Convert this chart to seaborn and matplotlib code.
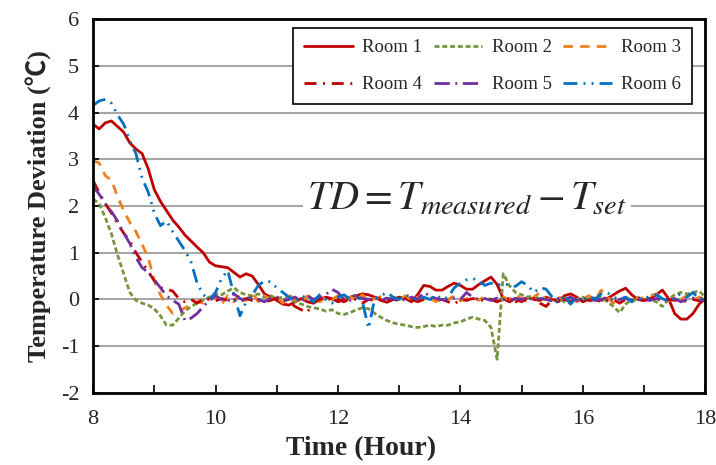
import numpy as np
import pandas as pd
import matplotlib
matplotlib.use("Agg")
import matplotlib.pyplot as plt
import seaborn as sns
from matplotlib.ticker import MultipleLocator

# ---------------- data (hourly time grid, 0.1 h step) ----------------
hours = np.round(np.linspace(8.0, 18.0, 101), 1)

room1 = [3.75, 3.65, 3.78, 3.82, 3.70, 3.58, 3.35, 3.22, 3.12, 2.80,
         2.35, 2.10, 1.90, 1.70, 1.55, 1.38, 1.25, 1.12, 1.00, 0.80,
         0.72, 0.70, 0.68, 0.58, 0.48, 0.55, 0.50, 0.32, 0.12, 0.05,
         -0.02, -0.10, -0.12, -0.05, 0.02, -0.05, -0.08, 0.00, 0.05, 0.02,
         -0.05, 0.00, 0.05, 0.08, 0.12, 0.10, 0.05, -0.02, -0.06, 0.00,
         0.05, 0.02, -0.05, 0.10, 0.30, 0.28, 0.20, 0.20, 0.28, 0.35,
         0.30, 0.22, 0.22, 0.32, 0.40, 0.48, 0.32, 0.02, -0.05, 0.02,
         -0.05, 0.05, 0.00, -0.02, 0.05, 0.00, -0.05, 0.08, 0.12, 0.05,
         -0.05, 0.00, 0.03, -0.02, 0.02, 0.10, 0.18, 0.24, 0.10, 0.00,
         -0.02, 0.02, 0.10, 0.20, 0.02, -0.30, -0.42, -0.42, -0.30, -0.10,
         0.02]

room2 = [2.15, 2.05, 1.75, 1.40, 0.95, 0.55, 0.15, -0.02, -0.08, -0.12,
         -0.20, -0.35, -0.55, -0.55, -0.40, -0.25, -0.15, -0.08, -0.02, 0.05,
         0.12, 0.10, 0.18, 0.25, 0.15, 0.10, 0.08, 0.12, 0.05, 0.08,
         0.02, 0.05, 0.00, -0.05, -0.10, -0.15, -0.18, -0.20, -0.25, -0.22,
         -0.30, -0.32, -0.28, -0.22, -0.18, -0.20, -0.30, -0.38, -0.45, -0.50,
         -0.53, -0.55, -0.58, -0.60, -0.58, -0.55, -0.58, -0.55, -0.55, -0.50,
         -0.48, -0.42, -0.38, -0.42, -0.45, -0.60, -1.28, 0.55, 0.30, 0.15,
         0.10, 0.05, 0.08, 0.00, 0.05, -0.05, 0.02, -0.05, -0.08, 0.00,
         0.05, -0.02, 0.00, 0.05, -0.05, -0.15, -0.28, -0.10, 0.00, -0.02,
         0.05, 0.00, -0.05, -0.15, 0.00, 0.10, 0.15, 0.12, 0.15, 0.18,
         0.05]

room3 = [2.97, 2.92, 2.65, 2.55, 2.20, 1.90, 1.65, 1.45, 1.18, 0.90,
         0.40, 0.10, -0.12, -0.30, -0.25, -0.18, -0.12, -0.05, -0.08, 0.00,
         0.05, -0.10, 0.08, -0.05, 0.12, -0.02, 0.15, -0.05, 0.08, 0.00,
         0.05, -0.08, 0.10, 0.00, -0.05, 0.08, 0.02, -0.05, 0.05, 0.00,
         0.08, -0.02, 0.05, 0.00, 0.10, -0.05, 0.02, 0.06, -0.03, 0.05,
         0.00, 0.08, -0.02, 0.05, 0.00, 0.03, -0.05, 0.05, 0.00, 0.08,
         -0.03, 0.02, 0.05, -0.02, 0.08, 0.00, -0.05, 0.05, 0.00, 0.10,
         0.02, -0.05, 0.05, 0.15, 0.00, -0.02, 0.05, 0.00, 0.10, -0.05,
         0.02, 0.08, -0.02, 0.20, 0.05, -0.08, 0.00, 0.05, -0.02, 0.05,
         0.00, 0.08, 0.12, 0.02, -0.03, 0.05, 0.00, 0.08, -0.02, 0.05,
         0.00]

room4 = [2.55, 2.28, 2.05, 1.85, 1.62, 1.42, 1.25, 1.00, 0.80, 0.60,
         0.40, 0.25, 0.22, 0.18, 0.02, -0.05, 0.00, -0.08, 0.02, 0.00,
         -0.03, 0.02, -0.02, 0.00, -0.05, 0.02, -0.02, 0.00, -0.05, -0.02,
         0.03, 0.00, -0.05, -0.15, -0.22, -0.28, -0.05, 0.00, 0.05, -0.02,
         0.00, -0.05, 0.02, 0.00, -0.08, 0.00, -0.02, 0.03, -0.05, 0.00,
         -0.02, 0.02, 0.00, -0.05, 0.00, 0.02, -0.03, 0.00, -0.05, -0.10,
         0.00, -0.02, 0.02, 0.00, -0.03, 0.00, -0.05, 0.00, 0.02, -0.05,
         0.00, -0.03, 0.02, -0.08, -0.15, 0.00, -0.02, 0.00, -0.05, 0.02,
         0.00, -0.03, 0.00, -0.05, -0.02, 0.00, -0.08, 0.00, -0.03, 0.00,
         -0.02, 0.00, 0.02, -0.03, 0.00, -0.02, 0.00, -0.05, 0.00, -0.03,
         0.00]

room5 = [2.42, 2.25, 2.05, 1.88, 1.68, 1.42, 1.20, 0.90, 0.68, 0.58,
         0.42, 0.25, 0.08, -0.02, -0.10, -0.45, -0.40, -0.30, -0.15, -0.02,
         0.08, 0.00, -0.05, 0.12, 0.02, -0.02, 0.05, 0.00, -0.05, 0.02,
         0.05, -0.02, 0.00, 0.05, -0.03, 0.08, 0.00, 0.05, 0.10, 0.22,
         0.15, 0.00, -0.02, 0.05, 0.02, 0.00, 0.05, -0.02, 0.03, 0.00,
         0.02, -0.02, 0.05, 0.00, 0.15, 0.08, 0.02, 0.00, -0.02, 0.03,
         0.00, 0.15, 0.05, 0.00, 0.02, -0.02, 0.03, 0.00, -0.02, 0.02,
         0.00, 0.05, -0.02, 0.02, 0.00, -0.03, 0.02, 0.00, 0.05, -0.02,
         0.00, 0.03, -0.02, 0.00, 0.05, -0.02, 0.00, 0.02, -0.02, 0.03,
         0.00, -0.02, 0.02, 0.00, -0.03, 0.02, -0.05, 0.00, 0.03, -0.02,
         0.00]

room6 = [4.15, 4.25, 4.28, 4.20, 3.95, 3.75, 3.40, 3.12, 2.60, 2.30,
         1.85, 1.58, 1.68, 1.45, 1.25, 1.05, 0.80, 0.35, 0.10, 0.00,
         0.15, 0.45, 0.62, 0.10, -0.35, -0.05, 0.10, 0.30, 0.40, 0.38,
         0.25, 0.15, 0.05, -0.05, 0.08, 0.02, -0.05, 0.10, 0.00, -0.08,
         0.05, 0.10, 0.00, 0.12, -0.05, -0.62, 0.02, 0.08, 0.15, 0.05,
         0.00, 0.10, 0.05, -0.02, 0.05, 0.00, 0.10, 0.00, 0.05, 0.25,
         0.35, 0.42, 0.45, 0.40, 0.30, 0.35, 0.30, 0.35, 0.30, 0.28,
         0.38, 0.30, 0.15, 0.25, 0.22, 0.05, -0.08, 0.10, -0.10, 0.05,
         -0.05, 0.08, 0.00, 0.12, 0.15, 0.05, 0.00, 0.05, -0.05, 0.02,
         0.00, 0.08, 0.10, 0.02, -0.05, 0.05, 0.12, 0.05, 0.15, 0.00,
         0.05]

room_names = ["Room 1", "Room 2", "Room 3", "Room 4", "Room 5", "Room 6"]
room_values = [room1, room2, room3, room4, room5, room6]
colors = ["#C00000", "#77933C", "#F07F1E", "#C00000", "#7030A0", "#0070C0"]
dash_styles = [None, (1.8, 1.0), (3.4, 2.6), (4.3, 2.4, 0.7, 2.4),
               (5.5, 2.0, 0.7, 2.0), (5.0, 2.2, 0.7, 2.2, 0.7, 2.2)]

# ---------------- styling ----------------
sns.set_theme(style="white")
plt.rcParams["font.family"] = ["Liberation Serif", "Noto Sans CJK SC", "DejaVu Serif"]
plt.rcParams["mathtext.fontset"] = "stix"

fig = plt.figure(figsize=(7.16, 4.65), dpi=100)
ax = fig.add_axes([0.130, 0.155, 0.855, 0.804])

df = pd.DataFrame({"Time": np.tile(hours, len(room_names)),
                   "TD": np.concatenate([np.array(v, float) for v in room_values]),
                   "Room": np.repeat(room_names, len(hours))})

handles = []
for name, col, ds in zip(room_names, colors, dash_styles):
    sub = df[df["Room"] == name]
    sns.lineplot(data=sub, x="Time", y="TD", color=col, linewidth=2.0,
                 ax=ax, label=name, legend=False)
    ln = ax.lines[-1]
    if ds is not None:
        ln.set_dashes(ds)
    handles.append(ln)

ax.set_xlim(8, 18)
ax.set_ylim(-2, 6)
ax.xaxis.set_major_locator(MultipleLocator(2))
ax.xaxis.set_minor_locator(MultipleLocator(1))
ax.yaxis.set_major_locator(MultipleLocator(1))
ax.grid(axis="y", color="#A6A6A6", linewidth=1.5)
ax.grid(axis="x", visible=False)
ax.set_axisbelow(True)

for sp in ax.spines.values():
    sp.set_color("black")
    sp.set_linewidth(2.0)

ax.tick_params(axis="x", which="both", direction="in", bottom=True,
               length=6, width=1.2, color="black", labelsize=16, pad=12)
ax.tick_params(axis="y", which="major", direction="in", left=True,
               length=4, width=1.2, color="black", labelsize=16, pad=10)

ax.set_xlabel("Time (Hour)", fontsize=20, fontweight="bold", labelpad=5)
ax.xaxis.set_label_coords(0.438, -0.115)
ax.set_ylabel("Temperature Deviation (℃)", fontsize=19, fontweight="bold", labelpad=6)

# row-wise legend order (matplotlib fills columns first)
order = [0, 3, 1, 4, 2, 5]
leg = ax.legend([handles[i] for i in order], [room_names[i] for i in order],
                loc="upper right", bbox_to_anchor=(0.979, 0.976), borderaxespad=0,
                ncol=3, fontsize=13.5, frameon=True, fancybox=False,
                edgecolor="black", framealpha=1, handlelength=2.6,
                columnspacing=0.6, handletextpad=0.5, borderpad=0.6,
                labelspacing=1.05)
leg.get_frame().set_linewidth(1.2)

ax.text(14.11, 2.12, r"$TD = T_{measured} - T_{set}$", fontsize=29,
        ha="center", va="center",
        bbox=dict(facecolor="white", edgecolor="none", pad=3), zorder=5)

ax.set_xticks([8, 10, 12, 14, 16, 18])
ax.set_xticklabels(["8", "10", "12", "14", "16", "18"])
ax.set_yticks(list(range(-2, 7)))
ax.set_yticklabels([str(v) for v in range(-2, 7)])

fig.savefig("out.png", dpi=100)
